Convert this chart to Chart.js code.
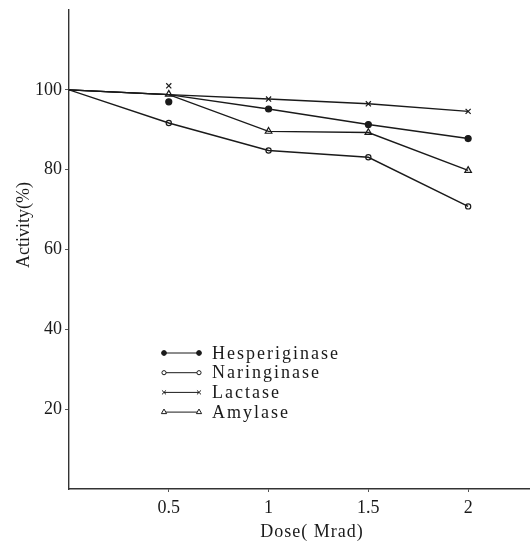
<!DOCTYPE html>
<html>
<head>
<meta charset="utf-8">
<script src="https://cdn.jsdelivr.net/npm/chart.js@4.4.0/dist/chart.umd.min.js"></script>
<style>
  html, body { margin: 0; padding: 0; background: #fff; }
  #wrap { width: 530px; height: 544px; position: relative; }
</style>
</head>
<body>
<div id="wrap"><canvas id="c"></canvas></div>
<script>
// Dose (Mrad)
const doses = [0, 0.5, 1, 1.5, 2];
const xTicks = [0.5, 1, 1.5, 2];
const yTicks = [20, 40, 60, 80, 100];

// measured markers (no marker at dose 0)
const hespMarks = [null, 97, 95.2, 91.3, 87.8];
const narMarks  = [null, 91.7, 84.8, 83.1, 70.8];
const lacMarks  = [null, 101, 97.7, 96.5, 94.6];
const amyMarks  = [null, 98.9, 89.6, 89.3, 79.8];

// drawn connecting lines (three of them meet near 98.8 at 0.5)
const hespLine = [100, 98.8, 95.2, 91.3, 87.8];
const narLine  = [100, 91.7, 84.8, 83.1, 70.8];
const lacLine  = [100, 98.8, 97.7, 96.5, 94.6];
const amyLine  = [100, 98.8, 89.6, 89.3, 79.8];

const names = ['Hesperiginase', 'Naringinase', 'Lactase', 'Amylase'];

const INK = '#1a1a1a';
const FONT = '"Liberation Serif", "Times New Roman", serif';

const styles = [
  { pointStyle: 'circle',   radius: 3,   fill: INK },
  { pointStyle: 'circle',   radius: 2.6, fill: '#fff' },
  { pointStyle: 'crossRot', radius: 3.6, fill: INK },
  { pointStyle: 'triangle', radius: 3.8, fill: '#fff' }
];

const toXY = arr => doses.map((d, i) => ({ x: d, y: arr[i] }));

const lines = [hespLine, narLine, lacLine, amyLine];
const marks = [hespMarks, narMarks, lacMarks, amyMarks];

const datasets = [];
lines.forEach((l, i) => {
  datasets.push({
    label: names[i] + ' line',
    data: toXY(l),
    borderColor: INK,
    borderWidth: 1.4,
    pointRadius: 0,
    tension: 0
  });
});
marks.forEach((m, i) => {
  datasets.push({
    label: names[i],
    data: toXY(m),
    showLine: false,
    borderColor: INK,
    backgroundColor: styles[i].fill,
    pointBackgroundColor: styles[i].fill,
    pointBorderColor: INK,
    pointBorderWidth: 1.2,
    pointStyle: styles[i].pointStyle,
    pointRadius: styles[i].radius
  });
});

// axis titles and the in-plot legend
const decorations = {
  id: 'decorations',
  afterDraw(chart) {
    const ctx = chart.ctx;
    ctx.save();
    ctx.fillStyle = INK;
    ctx.font = '18px ' + FONT;
    ctx.textBaseline = 'middle';
    ctx.textAlign = 'center';

    // y title
    ctx.save();
    ctx.translate(24, 225);
    ctx.rotate(-Math.PI / 2);
    ctx.fillText('Activity(%)', 0, 0);
    ctx.restore();

    // x title
    ctx.letterSpacing = '1px';
    ctx.fillText('Dose( Mrad)', 312, 532);

    // legend
    const x0 = 164, x1 = 199, tx = 212, top = 353, step = 19.7;
    ctx.textAlign = 'left';
    ctx.letterSpacing = '2px';
    names.forEach((n, i) => {
      const y = top + i * step;
      ctx.strokeStyle = INK;
      ctx.lineWidth = 1;
      ctx.beginPath();
      ctx.moveTo(x0, y);
      ctx.lineTo(x1, y);
      ctx.stroke();
      const opts = { pointStyle: styles[i].pointStyle, rotation: 0, radius: styles[i].radius * 0.8, borderWidth: 1 };
      ctx.fillStyle = styles[i].fill;
      Chart.helpers.drawPoint(ctx, opts, x0, y);
      Chart.helpers.drawPoint(ctx, opts, x1, y);
      ctx.fillStyle = INK;
      ctx.fillText(n, tx, y + 1);
    });
    ctx.restore();
  }
};

new Chart(document.getElementById('c'), {
  type: 'line',
  data: { datasets },
  options: {
    responsive: true,
    maintainAspectRatio: false,
    animation: false,
    layout: { autoPadding: false, padding: { top: 10, right: 0, left: 0, bottom: 0 } },
    plugins: {
      legend: { display: false },
      tooltip: { enabled: false }
    },
    scales: {
      x: {
        type: 'linear',
        min: 0,
        max: 2.31,
        afterBuildTicks: s => { s.ticks = xTicks.map(v => ({ value: v })); },
        afterFit: s => { s.height = 55; s.paddingRight = 0; s.paddingLeft = 0; },
        border: { color: '#333', width: 1.4 },
        grid: { drawOnChartArea: false, drawTicks: true, tickLength: 3, color: '#555' },
        ticks: {
          color: INK, font: { family: FONT, size: 18 }, padding: 5, maxRotation: 0,
          callback: v => String(v)
        }
      },
      y: {
        min: 0,
        max: 120,
        afterBuildTicks: s => { s.ticks = yTicks.map(v => ({ value: v })); },
        afterFit: s => { s.width = 69; s.paddingTop = 0; s.paddingBottom = 0; },
        border: { color: '#333', width: 1.4 },
        grid: { drawOnChartArea: false, drawTicks: true, tickLength: 4, color: '#555' },
        ticks: { color: INK, font: { family: FONT, size: 18 }, padding: 3 }
      }
    }
  },
  plugins: [decorations]
});
</script>
</body>
</html>
